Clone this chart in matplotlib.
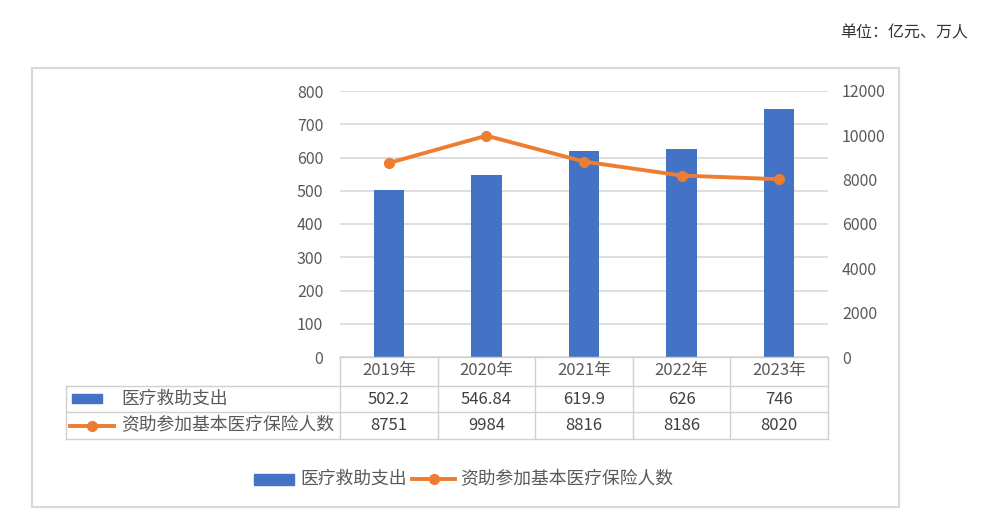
import numpy as np
import matplotlib as mpl
mpl.use('Agg')
import matplotlib.pyplot as plt
import matplotlib.transforms as mtransforms
from matplotlib.patches import Rectangle
from matplotlib.lines import Line2D

plt.rcParams['font.family'] = ['Noto Sans CJK SC', 'DejaVu Sans']

# data
years = ['2019年', '2020年', '2021年', '2022年', '2023年']
spending = [502.2, 546.84, 619.9, 626, 746]
spending_labels = ['502.2', '546.84', '619.9', '626', '746']
insured = [8751, 9984, 8816, 8186, 8020]
insured_labels = ['8751', '9984', '8816', '8186', '8020']
name_bar = '医疗救助支出'
name_line = '资助参加基本医疗保险人数'
unit_text = '单位：亿元、万人'

BLUE = '#4472c4'
ORANGE = '#ed7d31'
GRID = '#d9d9d9'
TXT = '#595959'
W, H = 982, 520


def fx(px):
    return px / W


def fy(py):
    return 1 - py / H


fig = plt.figure(figsize=(W / 100, H / 100), dpi=100)

# outer chart border
fig.patches.append(Rectangle((fx(32), fy(507)), fx(899) - fx(32), fy(68) - fy(507),
                             transform=fig.transFigure, fill=False, edgecolor='#d9d9d9', linewidth=1.5))

ax = fig.add_axes([fx(340), fy(357), fx(828) - fx(340), fy(91) - fy(357)])
x = np.arange(len(years))
ax.bar(x, spending, width=0.31, color=BLUE, zorder=3)
ax.set_xlim(-0.5, len(years) - 0.5)
ax.set_ylim(0, 800)
ax.set_yticks(np.arange(0, 801, 100))
ax.yaxis.grid(True, color=GRID, linewidth=1.2, zorder=0)
ax.set_axisbelow(True)
ax.set_xticks([])
for s in ax.spines.values():
    s.set_visible(False)
ax.tick_params(axis='y', length=0, pad=12, labelsize=11.5, labelcolor=TXT)

ax2 = ax.twinx()
ax2.plot(x, insured, color=ORANGE, linewidth=2.8, marker='o', markersize=7, zorder=4)
ax2.set_ylim(0, 12000)
ax2.set_yticks(np.arange(0, 12001, 2000))
for s in ax2.spines.values():
    s.set_visible(False)
ax2.tick_params(axis='y', length=0, pad=10, labelsize=11.5, labelcolor=TXT)

# data table
tr = mtransforms.blended_transform_factory(ax.transData, fig.transFigure)
line_kw = dict(color='#d0d0d0', linewidth=1, transform=fig.transFigure)
col_edges = [fx(340) + i * (fx(828) - fx(340)) / len(years) for i in range(len(years) + 1)]
rows_y = [357, 386, 412, 439]
# horizontal lines
fig.add_artist(Line2D([fx(340), fx(828)], [fy(357)] * 2, **line_kw))
for r in rows_y[1:]:
    fig.add_artist(Line2D([fx(66), fx(828)], [fy(r)] * 2, **line_kw))
# vertical lines
for c in col_edges:
    fig.add_artist(Line2D([c, c], [fy(357), fy(439)], **line_kw))
fig.add_artist(Line2D([fx(66), fx(66)], [fy(386), fy(439)], **line_kw))

for i in range(len(years)):
    ax.text(x[i], fy(371), years[i], transform=tr, ha='center', va='center', fontsize=12, color=TXT)
    ax.text(x[i], fy(399), spending_labels[i], transform=tr, ha='center', va='center', fontsize=12, color='#404040')
    ax.text(x[i], fy(425.5), insured_labels[i], transform=tr, ha='center', va='center', fontsize=12, color='#404040')

# table legend keys
fig.patches.append(Rectangle((fx(72), fy(403)), fx(102) - fx(72), fy(394) - fy(403),
                             transform=fig.transFigure, color=BLUE))
fig.add_artist(Line2D([fx(70), fx(114)], [fy(425.5)] * 2, color=ORANGE, linewidth=2.8,
                      transform=fig.transFigure))
fig.add_artist(Line2D([fx(92)], [fy(425.5)], color=ORANGE, marker='o', markersize=7,
                      transform=fig.transFigure))
fig.text(fx(121), fy(399), name_bar, ha='left', va='center', fontsize=12.8, color=TXT)
fig.text(fx(121), fy(425.5), name_line, ha='left', va='center', fontsize=12.8, color=TXT)

# bottom legend
fig.patches.append(Rectangle((fx(254), fy(485)), fx(294) - fx(254), fy(474) - fy(485),
                             transform=fig.transFigure, color=BLUE))
fig.text(fx(300), fy(479), name_bar, ha='left', va='center', fontsize=12.8, color=TXT)
fig.add_artist(Line2D([fx(412), fx(455)], [fy(479)] * 2, color=ORANGE, linewidth=2.8,
                      transform=fig.transFigure))
fig.add_artist(Line2D([fx(433.5)], [fy(479)], color=ORANGE, marker='o', markersize=7,
                      transform=fig.transFigure))
fig.text(fx(460), fy(479), name_line, ha='left', va='center', fontsize=12.8, color=TXT)

fig.text(fx(968), fy(33), unit_text, ha='right', va='center', fontsize=11.5, color='#333333')

fig.savefig('out.png', dpi=100)
